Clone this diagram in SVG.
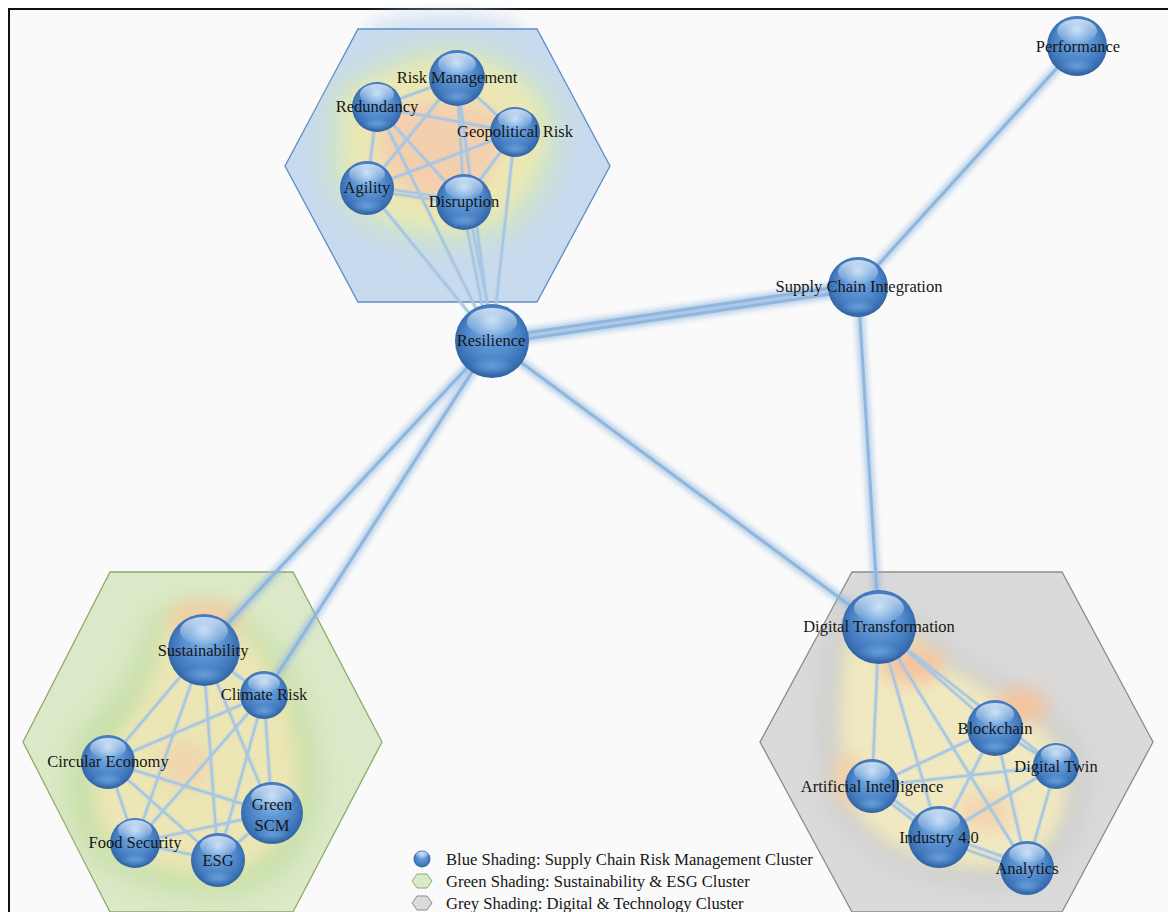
<svg xmlns="http://www.w3.org/2000/svg" width="1168" height="912" viewBox="0 0 1168 912">
  <defs>
    <radialGradient id="ball" cx="0.5" cy="0.5" r="0.55" fx="0.5" fy="0.22">
      <stop offset="0" stop-color="#a9cdf1"/>
      <stop offset="0.4" stop-color="#6199d8"/>
      <stop offset="0.8" stop-color="#3e76bb"/>
      <stop offset="1" stop-color="#2c5b98"/>
    </radialGradient>
    <linearGradient id="shine" x1="0" y1="0" x2="0" y2="1">
      <stop offset="0" stop-color="#ffffff" stop-opacity="0.7"/>
      <stop offset="1" stop-color="#ffffff" stop-opacity="0"/>
    </linearGradient>
    <radialGradient id="rim" cx="0.5" cy="0.5" r="0.5">
      <stop offset="0" stop-color="#8cc0ee" stop-opacity="0.5"/>
      <stop offset="1" stop-color="#8cc0ee" stop-opacity="0"/>
    </radialGradient>
    <filter id="blurL" x="-30%" y="-30%" width="160%" height="160%">
      <feGaussianBlur stdDeviation="14"/>
    </filter>
    <filter id="blurM" x="-30%" y="-30%" width="160%" height="160%">
      <feGaussianBlur stdDeviation="9"/>
    </filter>
    <filter id="glowWide" x="-10%" y="-10%" width="120%" height="120%">
      <feGaussianBlur in="SourceGraphic" stdDeviation="3.5" result="b"/>
      <feMerge><feMergeNode in="b"/><feMergeNode in="b"/><feMergeNode in="SourceGraphic"/></feMerge>
    </filter>
    <filter id="glowThin" x="-10%" y="-10%" width="120%" height="120%">
      <feGaussianBlur in="SourceGraphic" stdDeviation="1.2" result="b"/>
      <feMerge><feMergeNode in="b"/><feMergeNode in="SourceGraphic"/></feMerge>
    </filter>
    <clipPath id="clipTop"><polygon points="358,29 537,29 610,166 537,302 358,302 285,166"/></clipPath>
    <clipPath id="clipGreen"><polygon points="110,572 293,572 382,742 293,912 110,912 23,742"/></clipPath>
    <clipPath id="clipGrey"><polygon points="852,572 1062,572 1153,742 1062,912 852,912 760,742"/></clipPath>
    <style>
      .ball { fill: url(#ball); }
      .hl { fill: url(#shine); }
      .rim { fill: url(#rim); }
      text { font-family: "Liberation Serif", "Times New Roman", serif; font-size: 16.5px; fill: #161616; text-anchor: middle; }
      .legend text { text-anchor: start; font-size: 16.6px; }
      .long line { stroke: #8fb6de; stroke-width: 3; stroke-linecap: round; }
      .short line { stroke: #a7c6e4; stroke-width: 2.2; stroke-linecap: round; }
    </style>
  </defs>

  <!-- page -->
  <rect x="0" y="0" width="1168" height="912" fill="#ffffff"/>
  <rect x="9" y="9" width="1170" height="920" fill="#fafafa" stroke="#111111" stroke-width="2"/>

  <!-- cluster backgrounds -->
  <g id="cluster-risk">
    <ellipse cx="445" cy="32" rx="80" ry="18" fill="#d3e2f2" filter="url(#blurM)"/>
    <polygon points="358,29 537,29 610,166 537,302 358,302 285,166" fill="#c8daee" stroke="#5f8cc4" stroke-width="1.3"/>
    <g clip-path="url(#clipTop)">
      <path d="M330,95 Q380,45 460,42 Q545,60 560,120 Q565,180 515,230 Q465,255 410,240 Q335,222 325,170 Z" fill="#cfe5c6" filter="url(#blurL)"/>
      <path d="M345,100 Q390,62 460,58 Q535,75 545,125 Q545,175 505,215 Q460,238 410,225 Q350,208 345,165 Z" fill="#ebe8b4" filter="url(#blurM)"/>
      <path d="M380,115 Q430,88 495,110 Q510,150 480,190 Q430,210 395,185 Q370,150 380,115 Z" fill="#f4cfae" filter="url(#blurM)"/>
    </g>
  </g>
  <g id="cluster-esg">
    <polygon points="110,572 293,572 382,742 293,912 110,912 23,742" fill="#dce9c8" stroke="#8eab6c" stroke-width="1.3"/>
    <g clip-path="url(#clipGreen)">
      <path d="M150,620 Q200,590 260,630 Q310,680 320,780 Q315,880 230,895 Q120,895 80,840 Q50,770 90,720 Q130,690 150,620 Z" fill="#c6dfa8" filter="url(#blurL)"/>
      <path d="M165,625 Q205,600 250,640 Q295,690 300,780 Q290,865 220,875 Q130,875 100,830 Q80,775 115,735 Q150,700 165,625 Z" fill="#ebe6b4" filter="url(#blurM)"/>
      <ellipse cx="205" cy="618" rx="38" ry="18" fill="#f2cfa6" filter="url(#blurM)"/>
      <ellipse cx="185" cy="765" rx="25" ry="25" fill="#f0d6ac" filter="url(#blurM)"/>
    </g>
  </g>
  <g id="cluster-tech">
    <polygon points="852,572 1062,572 1153,742 1062,912 852,912 760,742" fill="#dadada" stroke="#8c8c8c" stroke-width="1.3"/>
    <g clip-path="url(#clipGrey)">
      <path d="M840,610 Q900,590 940,650 Q1000,680 1060,720 Q1105,770 1070,840 Q1040,900 950,880 Q860,860 830,800 Q810,700 840,610 Z" fill="#cbcbcb" filter="url(#blurL)"/>
      <path d="M850,625 Q900,610 935,660 Q995,690 1045,730 Q1085,775 1055,835 Q1025,880 950,865 Q870,850 845,795 Q830,700 850,625 Z" fill="#f0e9c0" filter="url(#blurM)"/>
      <ellipse cx="912" cy="665" rx="32" ry="20" fill="#f5c49e" filter="url(#blurM)"/>
      <ellipse cx="1022" cy="705" rx="25" ry="18" fill="#f5c49e" filter="url(#blurM)"/>
      <ellipse cx="850" cy="780" rx="18" ry="25" fill="#f3cfa8" filter="url(#blurM)"/>
      <ellipse cx="985" cy="812" rx="30" ry="20" fill="#f3d6b0" filter="url(#blurM)"/>
    </g>
  </g>

  <!-- connectors -->
  <g id="connectors">
    <g class="long" filter="url(#glowWide)">
      <line x1="1077" y1="46" x2="858" y2="287"/>
      <line x1="858" y1="287" x2="879" y2="627"/>
      <line x1="492" y1="338" x2="858" y2="284"/>
      <line x1="492" y1="344" x2="858" y2="290"/>
      <line x1="492" y1="341" x2="879" y2="627"/>
      <line x1="492" y1="341" x2="203" y2="650"/>
      <line x1="492" y1="341" x2="264" y2="695"/>
    </g>
    <g class="short" filter="url(#glowThin)">
      <!-- risk cluster -->
      <line x1="492" y1="341" x2="367" y2="188"/>
      <line x1="492" y1="341" x2="377" y2="107"/>
      <line x1="489" y1="341" x2="462" y2="202"/>
      <line x1="495" y1="341" x2="467" y2="202"/>
      <line x1="492" y1="341" x2="515" y2="132"/>
      <line x1="492" y1="341" x2="457" y2="78"/>
      <line x1="377" y1="107" x2="457" y2="78"/>
      <line x1="457" y1="78" x2="515" y2="132"/>
      <line x1="377" y1="107" x2="515" y2="132"/>
      <line x1="377" y1="107" x2="367" y2="188"/>
      <line x1="377" y1="107" x2="464" y2="202"/>
      <line x1="457" y1="78" x2="367" y2="188"/>
      <line x1="457" y1="78" x2="464" y2="202"/>
      <line x1="515" y1="132" x2="367" y2="188"/>
      <line x1="515" y1="132" x2="464" y2="202"/>
      <line x1="367" y1="186" x2="464" y2="200"/>
      <line x1="367" y1="190" x2="464" y2="204"/>
      <!-- sustainability cluster -->
      <line x1="203" y1="650" x2="264" y2="695"/>
      <line x1="203" y1="650" x2="108" y2="762"/>
      <line x1="203" y1="650" x2="135" y2="843"/>
      <line x1="203" y1="650" x2="218" y2="860"/>
      <line x1="203" y1="650" x2="272" y2="813"/>
      <line x1="264" y1="695" x2="108" y2="762"/>
      <line x1="264" y1="695" x2="135" y2="843"/>
      <line x1="264" y1="695" x2="218" y2="860"/>
      <line x1="264" y1="695" x2="272" y2="813"/>
      <line x1="108" y1="762" x2="272" y2="813"/>
      <line x1="108" y1="762" x2="135" y2="843"/>
      <line x1="108" y1="762" x2="218" y2="860"/>
      <line x1="135" y1="843" x2="272" y2="813"/>
      <line x1="135" y1="843" x2="218" y2="860"/>
      <line x1="218" y1="860" x2="272" y2="813"/>
      <!-- technology cluster -->
      <line x1="879" y1="627" x2="872" y2="786"/>
      <line x1="879" y1="627" x2="939" y2="837"/>
      <line x1="879" y1="627" x2="1027" y2="868"/>
      <line x1="879" y1="627" x2="995" y2="728"/>
      <line x1="879" y1="627" x2="1056" y2="766"/>
      <line x1="995" y1="728" x2="872" y2="786"/>
      <line x1="995" y1="728" x2="939" y2="837"/>
      <line x1="995" y1="728" x2="1027" y2="868"/>
      <line x1="995" y1="728" x2="1056" y2="766"/>
      <line x1="1056" y1="766" x2="872" y2="786"/>
      <line x1="1056" y1="766" x2="939" y2="837"/>
      <line x1="1056" y1="766" x2="1027" y2="868"/>
      <line x1="872" y1="783" x2="939" y2="834"/>
      <line x1="872" y1="789" x2="939" y2="840"/>
      <line x1="939" y1="834" x2="1027" y2="865"/>
      <line x1="939" y1="840" x2="1027" y2="871"/>
    </g>
  </g>

  <!-- nodes: risk management -->
  <g id="n-risk-management"><circle cx="457" cy="78" r="28" class="ball"/><ellipse cx="457" cy="64" rx="19" ry="11" class="hl"/><ellipse cx="457" cy="97" rx="17" ry="7" class="rim"/><text x="457" y="83">Risk Management</text></g>
  <g id="n-redundancy"><circle cx="377" cy="107" r="25" class="ball"/><ellipse cx="377" cy="94" rx="17" ry="10" class="hl"/><ellipse cx="377" cy="124" rx="15" ry="6" class="rim"/><text x="377" y="112">Redundancy</text></g>
  <g id="n-geopolitical-risk"><circle cx="515" cy="132" r="25" class="ball"/><ellipse cx="515" cy="119" rx="17" ry="10" class="hl"/><ellipse cx="515" cy="149" rx="15" ry="6" class="rim"/><text x="515" y="137">Geopolitical Risk</text></g>
  <g id="n-agility"><circle cx="367" cy="188" r="27" class="ball"/><ellipse cx="367" cy="174" rx="18" ry="10" class="hl"/><ellipse cx="367" cy="206" rx="16" ry="7" class="rim"/><text x="367" y="193">Agility</text></g>
  <g id="n-disruption"><circle cx="464" cy="202" r="28" class="ball"/><ellipse cx="464" cy="188" rx="19" ry="11" class="hl"/><ellipse cx="464" cy="221" rx="17" ry="7" class="rim"/><text x="464" y="207">Disruption</text></g>

  <!-- nodes: hubs -->
  <g id="n-resilience"><circle cx="492" cy="341" r="37" class="ball"/><ellipse cx="492" cy="322" rx="25" ry="14" class="hl"/><ellipse cx="492" cy="366" rx="22" ry="9" class="rim"/><text x="491" y="346">Resilience</text></g>
  <g id="n-supply-chain-integration"><circle cx="858" cy="287" r="30" class="ball"/><ellipse cx="858" cy="272" rx="20" ry="12" class="hl"/><ellipse cx="858" cy="307" rx="18" ry="7" class="rim"/><text x="859" y="292">Supply Chain Integration</text></g>
  <g id="n-performance"><circle cx="1077" cy="46" r="30" class="ball"/><ellipse cx="1077" cy="31" rx="20" ry="12" class="hl"/><ellipse cx="1077" cy="66" rx="18" ry="7" class="rim"/><text x="1078" y="52">Performance</text></g>

  <!-- nodes: sustainability & ESG -->
  <g id="n-sustainability"><circle cx="204" cy="650" r="36" class="ball"/><ellipse cx="204" cy="631" rx="24" ry="14" class="hl"/><ellipse cx="204" cy="675" rx="22" ry="9" class="rim"/><text x="203" y="656">Sustainability</text></g>
  <g id="n-climate-risk"><circle cx="264" cy="695" r="24" class="ball"/><ellipse cx="264" cy="683" rx="16" ry="9" class="hl"/><ellipse cx="264" cy="711" rx="14" ry="6" class="rim"/><text x="264" y="700">Climate Risk</text></g>
  <g id="n-circular-economy"><circle cx="108" cy="762" r="27" class="ball"/><ellipse cx="108" cy="748" rx="18" ry="10" class="hl"/><ellipse cx="108" cy="780" rx="16" ry="7" class="rim"/><text x="108" y="767">Circular Economy</text></g>
  <g id="n-green-scm"><circle cx="272" cy="813" r="31" class="ball"/><ellipse cx="272" cy="797" rx="21" ry="12" class="hl"/><ellipse cx="272" cy="834" rx="18" ry="8" class="rim"/><text x="272" y="810">Green</text><text x="272" y="831">SCM</text></g>
  <g id="n-food-security"><circle cx="135" cy="843" r="25" class="ball"/><ellipse cx="135" cy="830" rx="17" ry="10" class="hl"/><ellipse cx="135" cy="860" rx="15" ry="6" class="rim"/><text x="135" y="848">Food Security</text></g>
  <g id="n-esg"><circle cx="218" cy="860" r="27" class="ball"/><ellipse cx="218" cy="846" rx="18" ry="10" class="hl"/><ellipse cx="218" cy="878" rx="16" ry="7" class="rim"/><text x="218" y="866">ESG</text></g>

  <!-- nodes: digital & technology -->
  <g id="n-digital-transformation"><circle cx="879" cy="627" r="37" class="ball"/><ellipse cx="879" cy="608" rx="25" ry="14" class="hl"/><ellipse cx="879" cy="652" rx="22" ry="9" class="rim"/><text x="879" y="632">Digital Transformation</text></g>
  <g id="n-blockchain"><circle cx="995" cy="728" r="28" class="ball"/><ellipse cx="995" cy="714" rx="19" ry="11" class="hl"/><ellipse cx="995" cy="747" rx="17" ry="7" class="rim"/><text x="995" y="734">Blockchain</text></g>
  <g id="n-digital-twin"><circle cx="1056" cy="766" r="23" class="ball"/><ellipse cx="1056" cy="754" rx="15" ry="9" class="hl"/><ellipse cx="1056" cy="781" rx="14" ry="6" class="rim"/><text x="1056" y="772">Digital Twin</text></g>
  <g id="n-artificial-intelligence"><circle cx="872" cy="786" r="27" class="ball"/><ellipse cx="872" cy="772" rx="18" ry="10" class="hl"/><ellipse cx="872" cy="804" rx="16" ry="7" class="rim"/><text x="872" y="792">Artificial Intelligence</text></g>
  <g id="n-industry-4-0"><circle cx="939" cy="837" r="31" class="ball"/><ellipse cx="939" cy="821" rx="21" ry="12" class="hl"/><ellipse cx="939" cy="858" rx="18" ry="8" class="rim"/><text x="939" y="843">Industry 4.0</text></g>
  <g id="n-analytics"><circle cx="1027" cy="868" r="27" class="ball"/><ellipse cx="1027" cy="854" rx="18" ry="10" class="hl"/><ellipse cx="1027" cy="886" rx="16" ry="7" class="rim"/><text x="1027" y="874">Analytics</text></g>

  <!-- legend -->
  <g id="legend" class="legend">
    <circle cx="422" cy="859" r="8.5" class="ball"/>
    <ellipse cx="422" cy="855" rx="6" ry="3.5" class="hl"/>
    <text x="446" y="865">Blue Shading: Supply Chain Risk Management Cluster</text>
    <polygon points="417,874 427,874 432,881 427,888 417,888 412,881" fill="#dce9c8" stroke="#8eab6c" stroke-width="1"/>
    <text x="446" y="887">Green Shading: Sustainability &amp; ESG Cluster</text>
    <polygon points="417,896 427,896 432,903 427,910 417,910 412,903" fill="#dadada" stroke="#8c8c8c" stroke-width="1"/>
    <text x="446" y="909">Grey Shading: Digital &amp; Technology Cluster</text>
  </g>
</svg>
